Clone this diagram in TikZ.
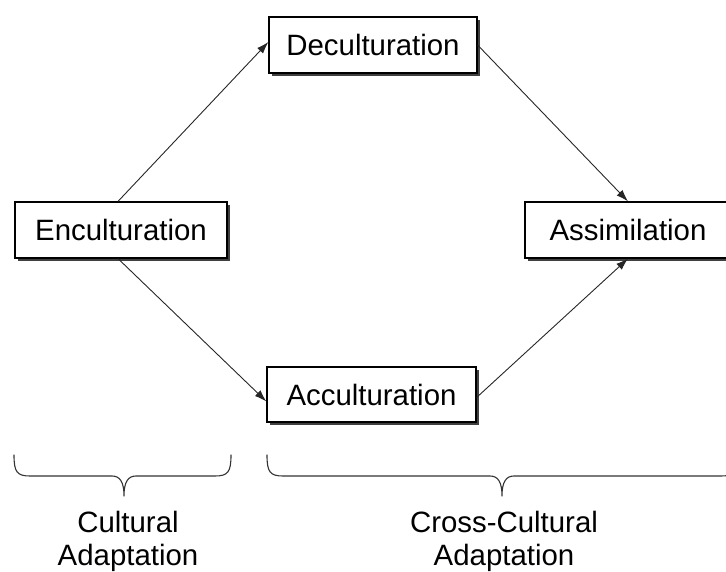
\documentclass[tikz,border=0pt]{standalone}
\usepackage{fontspec}
\setmainfont{Liberation Sans}
\usetikzlibrary{shadows,arrows.meta}
\begin{document}
\begin{tikzpicture}[x=1pt,y=-1pt,
  box/.style={draw=black, line width=1.2pt, fill=white, minimum height=56pt, inner sep=0pt,
    font=\fontsize{29.4}{33}\selectfont,
    drop shadow={shadow xshift=3pt, shadow yshift=-3pt, fill=black!75, opacity=1}},
  conn/.style={line width=0.9pt, draw=black!85, -{Latex[length=12pt,width=8pt]}},
  brc/.style={line width=1.1pt, draw=black!80, line cap=round, line join=round},
  lbl/.style={font=\fontsize{29.4}{33}\selectfont, align=center, inner sep=0pt, anchor=north}]
\useasboundingbox (0,0) rectangle (726,572);
\clip (0,0) rectangle (726,572);
\node[box, minimum width=208pt] (dec) at (373,45) {Deculturation};
\node[box, minimum width=212pt] (enc) at (121,230) {Enculturation};
\node[box, minimum width=206pt] (ass) at (628,230) {Assimilation};
\node[box, minimum width=209pt, minimum height=55pt] (acc) at (371.5,394.5) {Acculturation};
\draw[conn] ([xshift=-3pt]enc.north) -- ([yshift=3pt]dec.west);
\draw[conn] (dec.east) -- (ass.north);
\draw[conn] ([xshift=-3pt]enc.south) -- ([yshift=-7pt]acc.west);
\draw[conn] ([yshift=-3pt]acc.east) -- (ass.south);
% left brace
\draw[brc] (14,455) .. controls (14,472) and (17,476) .. (30,476) -- (112,476)
  .. controls (120,476) and (124,482) .. (124,496)
  .. controls (124,482) and (128,476) .. (136,476) -- (215,476)
  .. controls (228,476) and (231,472) .. (231,455);
% right brace
\draw[brc] (267,455) .. controls (267,472) and (270,476) .. (283,476) -- (490,476)
  .. controls (498,476) and (502,482) .. (502,496)
  .. controls (502,482) and (506,476) .. (514,476) -- (721,476)
  .. controls (734,476) and (737,472) .. (737,455);
\node[lbl] (cult) at (128,511) {Cultural\\Adaptation};
\node[lbl] (cross) at (504,511) {Cross-Cultural\\Adaptation};
\end{tikzpicture}
\end{document}
